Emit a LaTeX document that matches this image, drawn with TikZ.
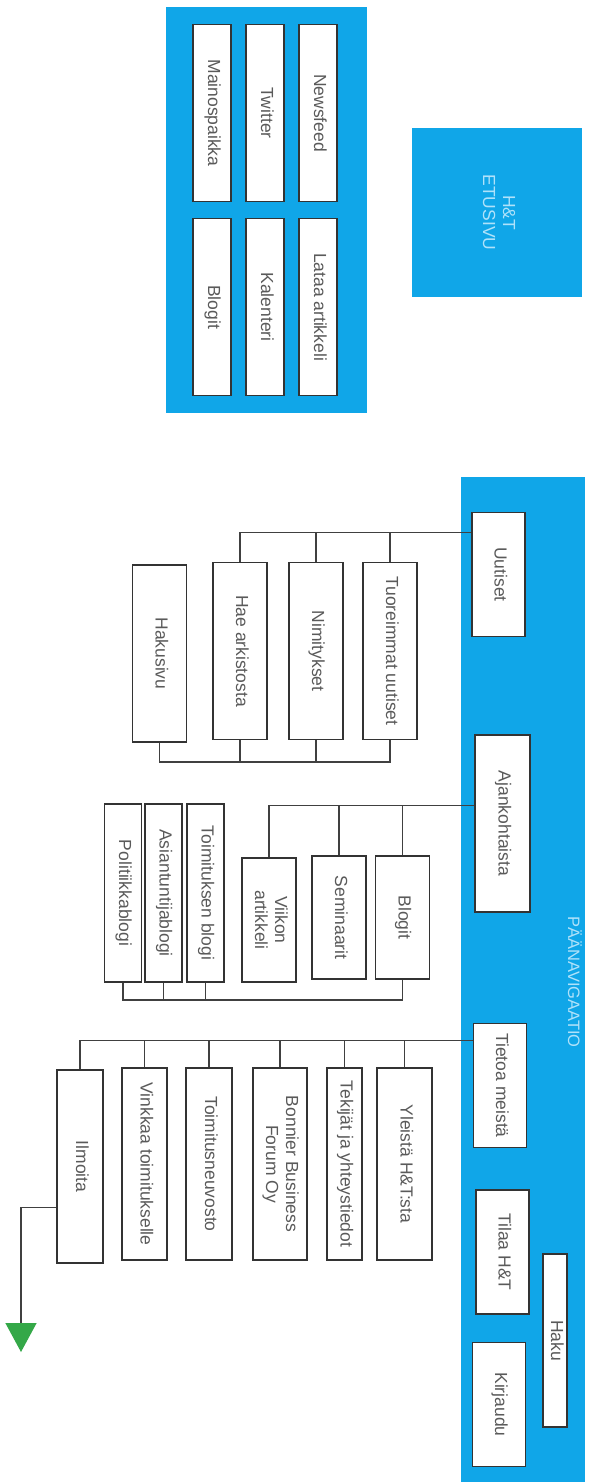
\documentclass[tikz,border=0pt]{standalone}
\usepackage{fontspec}
\setmainfont{Liberation Sans}
\usepackage{graphicx}
\usetikzlibrary{arrows.meta}
\definecolor{navblue}{RGB}{16,166,232}
\definecolor{navtext}{RGB}{176,226,250}
\definecolor{boxtext}{RGB}{90,90,90}
\definecolor{arrowgreen}{RGB}{52,168,72}
\newcommand\vtext[1]{\rotatebox{-90}{\begin{tabular}{@{}c@{}}#1\end{tabular}}}
\tikzset{
  panel/.style={fill=navblue},
  page/.style={draw=black!80,fill=white,line width=1.5pt,inner sep=0pt,
    text=boxtext,font=\fontsize{17.5}{20}\selectfont},
  widget/.style={page,minimum width=38pt,minimum height=177pt},
  navitem/.style={page,minimum width=53pt,minimum height=124pt},
  subpage/.style={page,minimum width=54pt,minimum height=177pt},
  link/.style={draw=black!75,line width=1.4pt},
}
\begin{document}
\begin{tikzpicture}[x=1pt,y=-1pt]
\useasboundingbox (0,0) rectangle (596,1482);
% etusivun nostot
\fill[panel] (166,7) rectangle (367,413);
\node[widget] (mainos)    at (212,113) {\vtext{Mainospaikka}};
\node[widget] (twitter)   at (265,113) {\vtext{Twitter}};
\node[widget] (newsfeed)  at (318,113) {\vtext{Newsfeed}};
\node[widget] (blogit1)   at (212,307) {\vtext{Blogit}};
\node[widget] (kalenteri) at (265,307) {\vtext{Kalenteri}};
\node[widget] (lataa)     at (318,307) {\vtext{Lataa artikkeli}};
\node[panel,minimum width=170pt,minimum height=169pt,text=navtext,
  font=\fontsize{17.5}{20}\selectfont] (etusivu) at (497,212.5)
  {\vtext{H\&T\\ETUSIVU}};
% paanavigaatio
\fill[panel] (461,477) rectangle (585,1482);
\node[text=navtext,font=\fontsize{16.5}{20}\selectfont] (navlabel)
  at (572,982) {\vtext{PÄÄNAVIGAATIO}};
\node[navitem] (uutiset)  at (498.5,574.5) {\vtext{Uutiset}};
\node[navitem,minimum width=55pt,minimum height=177pt] (ajank)
  at (502.5,823.5) {\vtext{Ajankohtaista}};
\node[navitem] (tietoa)   at (500,1085.5) {\vtext{Tietoa meistä}};
\node[navitem] (tilaa)    at (502.5,1252) {\vtext{Tilaa H\&T}};
\node[page,minimum width=24pt,minimum height=173pt] (haku)
  at (555,1340.5) {\vtext{Haku}};
\node[navitem] (kirjaudu) at (499,1404.5) {\vtext{Kirjaudu}};
% uutiset
\node[subpage] (tuoreimmat) at (390,651) {\vtext{Tuoreimmat uutiset}};
\node[subpage] (nimitykset) at (316,651) {\vtext{Nimitykset}};
\node[subpage] (hae)        at (240,651) {\vtext{Hae arkistosta}};
\node[subpage] (hakusivu)   at (159.5,653.5) {\vtext{Hakusivu}};
\coordinate (uutiset-out) at ([yshift=-21pt]uutiset.north west);
\coordinate (uutiset-bus) at (0,762);
\draw[link] (uutiset-out) -| (hae.north);
\foreach \n in {tuoreimmat,nimitykset}
  \draw[link] (\n.north) -- (\n.north |- uutiset-out);
\draw[link] (hakusivu.south) |- (tuoreimmat.south |- uutiset-bus)
  -- (tuoreimmat.south);
\foreach \n in {hae,nimitykset}
  \draw[link] (\n.south) -- (\n.south |- uutiset-bus);
% ajankohtaista
\node[subpage,minimum height=123pt] (blogit2)    at (402.5,917.5) {\vtext{Blogit}};
\node[subpage,minimum height=123pt] (seminaarit) at (339,917.5) {\vtext{Seminaarit}};
\node[subpage,minimum height=124pt] (viikon)     at (269,920) {\vtext{Viikon\\artikkeli}};
\node[subpage,minimum width=37pt,minimum height=178pt] (toimblogi)
  at (205.5,893) {\vtext{Toimituksen blogi}};
\node[subpage,minimum width=37pt,minimum height=178pt] (asiantuntija)
  at (163.5,893) {\vtext{Asiantuntijablogi}};
\node[subpage,minimum width=37pt,minimum height=178pt] (politiikka)
  at (123,893) {\vtext{Politiikkablogi}};
\coordinate (ajank-out) at ([yshift=-71pt]ajank.north west);
\coordinate (ajank-bus) at (0,1000);
\draw[link] (ajank-out) -| (viikon.north);
\foreach \n in {blogit2,seminaarit}
  \draw[link] (\n.north) -- (\n.north |- ajank-out);
\draw[link] (politiikka.south) |- (blogit2.south |- ajank-bus)
  -- (blogit2.south);
\foreach \n in {asiantuntija,toimblogi}
  \draw[link] (\n.south) -- (\n.south |- ajank-bus);
% tietoa meista
\node[subpage,minimum width=55pt,minimum height=192pt] (yleista)
  at (404.5,1164) {\vtext{Yleistä H\&T:sta}};
\node[subpage,minimum width=35pt,minimum height=192pt] (tekijat)
  at (344.5,1164) {\vtext{Tekijät ja yhteystiedot}};
\node[subpage,minimum height=192pt] (bonnier)
  at (280,1164) {\vtext{Bonnier Business\\Forum Oy}};
\node[subpage,minimum width=46pt,minimum height=192pt] (neuvosto)
  at (209,1164) {\vtext{Toimitusneuvosto}};
\node[subpage,minimum width=45pt,minimum height=192pt] (vinkkaa)
  at (144.5,1164) {\vtext{Vinkkaa toimitukselle}};
\node[subpage,minimum width=46pt,minimum height=193pt] (ilmoita)
  at (80,1166.5) {\vtext{Ilmoita}};
\coordinate (tietoa-out) at ([yshift=-18pt]tietoa.north west);
\draw[link] (tietoa-out) -| (ilmoita.north);
\foreach \n in {yleista,tekijat,bonnier,neuvosto,vinkkaa}
  \draw[link] (\n.north) -- (\n.north |- tietoa-out);
\coordinate (ilmoita-out) at ([yshift=-138pt]ilmoita.north west);
\coordinate (jatkuu) at (21,1352);
\draw[link,-{Triangle[width=31pt,length=29pt,color=arrowgreen]}]
  (ilmoita-out) -| (jatkuu);
\end{tikzpicture}
\end{document}
